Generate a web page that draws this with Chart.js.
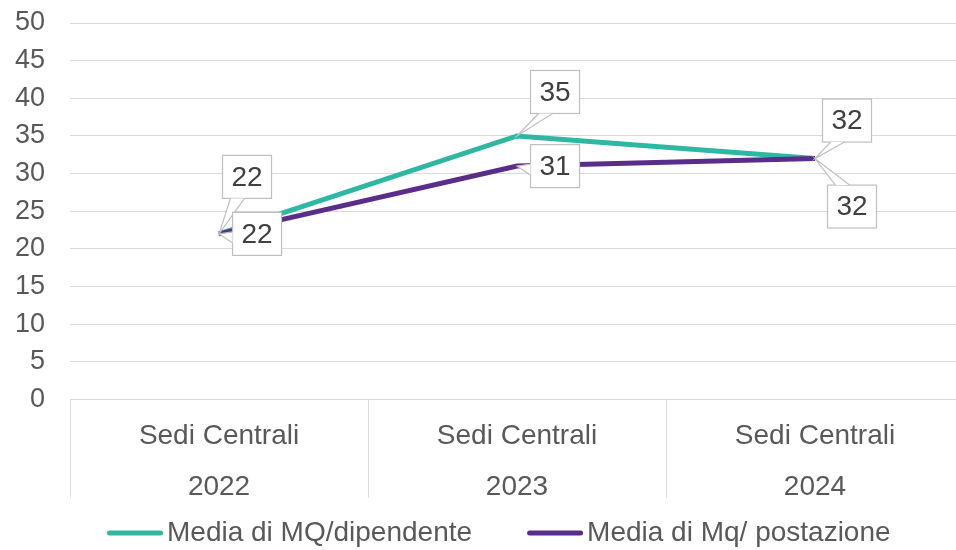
<!DOCTYPE html>
<html>
<head>
<meta charset="utf-8">
<script src="https://cdn.jsdelivr.net/npm/chart.js@4/dist/chart.umd.min.js"></script>
<style>
  html, body { margin: 0; padding: 0; background: #fff; overflow: hidden; }
  /* l'area del grafico in Excel sborda leggermente a destra */
  #wrap { width: 964px; height: 550px; }
</style>
</head>
<body>
<div id="wrap"><canvas id="chart"></canvas></div>
<script>
// dati
const sedi = ['Sedi Centrali', 'Sedi Centrali', 'Sedi Centrali']
const anni = ['2022', '2023', '2024']
const mqDipendente = [22, 35, 32]
const mqPostazione = [22, 31, 32]
const seriesNames = ['Media di MQ/dipendente', 'Media di Mq/ postazione']

const TEAL = '#2eb8a3'
const PURPLE = '#5b2d8a'
const TEXT = '#595959'
const GRID = '#d9d9d9'
const FONT = '"Liberation Sans", Arial, sans-serif'

// posizione dei riquadri etichetta rispetto al punto (dx, dy) per serie
const calloutOffsets = [
  [[28, -57], [38, -44], [32, -38]],
  [[38, 0], [38, 0], [37, 48]]
]

// etichette dati a fumetto, come in Excel
const calloutPlugin = {
  id: 'callouts',
  afterDatasetsDraw (chart) {
    const ctx = chart.ctx
    const W = 49, H = 43
    chart.data.datasets.forEach((ds, di) => {
      const meta = chart.getDatasetMeta(di)
      meta.data.forEach((pt, i) => {
        const [dx, dy] = calloutOffsets[di][i]
        const cx = pt.x + dx, cy = pt.y + dy
        const l = cx - W / 2, t = cy - H / 2
        // base del becco sul lato più vicino al punto
        let b1, b2
        if (Math.abs(dy) > H / 2) {
          const ey = dy < 0 ? t + H : t
          const bx = Math.max(l + 4, Math.min(l + W - 20, pt.x))
          b1 = [bx + 4, ey]; b2 = [bx + 18, ey]
        } else {
          const ex = dx > 0 ? l : l + W
          b1 = [ex, cy - 2]; b2 = [ex, cy + 9]
        }
        ctx.save()
        ctx.lineWidth = 1.2
        ctx.strokeStyle = '#bfbfbf'
        ctx.fillStyle = '#fff'
        ctx.fillRect(l, t, W, H)
        ctx.strokeRect(l, t, W, H)
        ctx.beginPath()
        ctx.moveTo(b1[0], b1[1])
        ctx.lineTo(pt.x, pt.y)
        ctx.lineTo(b2[0], b2[1])
        ctx.closePath()
        ctx.fill()
        ctx.beginPath()
        ctx.moveTo(b1[0], b1[1])
        ctx.lineTo(pt.x, pt.y)
        ctx.lineTo(b2[0], b2[1])
        ctx.stroke()
        ctx.fillStyle = '#404040'
        ctx.font = '28px ' + FONT
        ctx.textAlign = 'center'
        ctx.textBaseline = 'middle'
        ctx.fillText(String(ds.data[i]), cx, cy + 1)
        ctx.restore()
      })
    })
  }
}

// separatori verticali tra le categorie sotto l'asse x
const separatorPlugin = {
  id: 'separators',
  afterDraw (chart) {
    const x = chart.scales.x
    const ctx = chart.ctx
    const half = (x.getPixelForValue(1) - x.getPixelForValue(0)) / 2
    ctx.save()
    ctx.strokeStyle = GRID
    ctx.lineWidth = 1
    for (let i = 0; i <= sedi.length; i++) {
      const px = Math.round(x.getPixelForValue(i) - half) + 0.5
      ctx.beginPath()
      ctx.moveTo(px, x.top)
      ctx.lineTo(px, x.top + 98)
      ctx.stroke()
    }
    ctx.restore()
  }
}

// legenda disegnata a mano: campione corto e testo attaccato, come in Excel
const legendPlugin = {
  id: 'excelLegend',
  afterDraw (chart) {
    const ctx = chart.ctx
    const y = 533
    let x = 107
    ctx.save()
    ctx.font = '28px ' + FONT
    ctx.textBaseline = 'middle'
    ctx.textAlign = 'left'
    chart.data.datasets.forEach((ds) => {
      ctx.strokeStyle = ds.borderColor
      ctx.lineWidth = 5
      ctx.lineCap = 'round'
      ctx.beginPath()
      ctx.moveTo(x + 2.5, y)
      ctx.lineTo(x + 53.5, y)
      ctx.stroke()
      ctx.fillStyle = TEXT
      ctx.fillText(ds.label, x + 60, y)
      x += 60 + ctx.measureText(ds.label).width + 55
    })
    ctx.restore()
  }
}

const labels = sedi.map((s, i) => [s, anni[i]])

/* global Chart */
new Chart(document.getElementById('chart'), {
  type: 'line',
  data: {
    labels,
    datasets: [
      {
        label: seriesNames[0],
        data: mqDipendente,
        borderColor: TEAL,
        backgroundColor: TEAL,
        borderWidth: 5,
        pointRadius: 0,
        tension: 0,
        order: 2
      },
      {
        label: seriesNames[1],
        data: mqPostazione,
        borderColor: PURPLE,
        backgroundColor: PURPLE,
        borderWidth: 5,
        pointRadius: 0,
        tension: 0,
        order: 1
      }
    ]
  },
  options: {
    responsive: true,
    maintainAspectRatio: false,
    animation: false,
    layout: { padding: { left: -10, right: 0, top: 0, bottom: 34.5 } },
    plugins: {
      tooltip: { enabled: false },
      legend: { display: false }
    },
    scales: {
      x: {
        offset: true,
        grid: { display: false },
        border: { color: GRID, width: 1 },
        ticks: {
          color: TEXT,
          padding: 3,
          maxRotation: 0,
          autoSkip: false,
          font: { size: 28, family: FONT, lineHeight: 1.82 }
        }
      },
      y: {
        min: 0,
        max: 50,
        border: { display: false },
        grid: { color: GRID, drawTicks: false },
        ticks: {
          stepSize: 5,
          autoSkip: false,
          color: TEXT,
          padding: 25,
          font: { size: 27, family: FONT }
        },
        afterFit (scale) { scale.paddingTop = 23; scale.paddingBottom = 0 }
      }
    }
  },
  plugins: [calloutPlugin, separatorPlugin, legendPlugin]
})
</script>
</body>
</html>
